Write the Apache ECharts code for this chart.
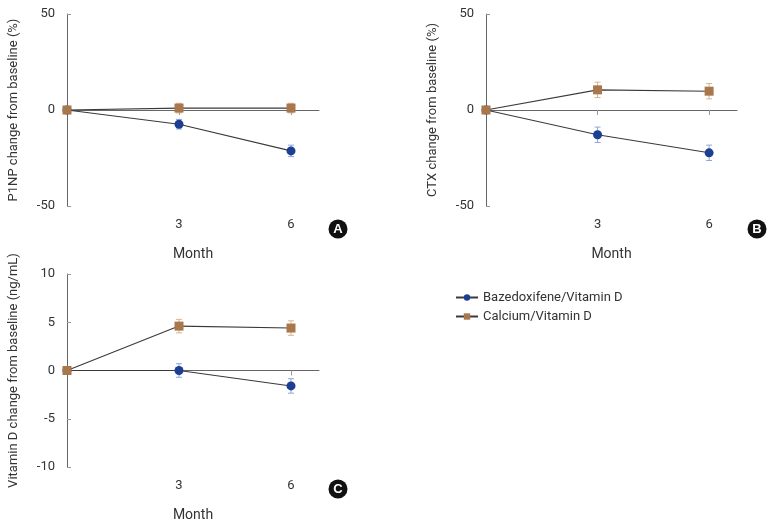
<!DOCTYPE html>
<html><head><meta charset="utf-8">
<script src="https://cdn.jsdelivr.net/npm/echarts@6/dist/echarts.min.js"></script>
<style>html,body{margin:0;padding:0;background:#fff}#c{width:774px;height:526px}</style>
</head><body><div id="c"></div>
<script>
var months = [0, 3, 6];
var seriesNames = ['Bazedoxifene/Vitamin D', 'Calcium/Vitamin D'];
// Panel A: P1NP
var p1npBaz = [0, -7.4, -21.3];
var p1npBazErr = [0, 2.5, 3];
var p1npCal = [0, 1, 1];
var p1npCalErr = [0, 2.5, 2.5];
// Panel B: CTX
var ctxBaz = [0, -12.9, -22.3];
var ctxBazErr = [0, 4, 4];
var ctxCal = [0, 10.5, 9.8];
var ctxCalErr = [0, 4, 4];
// Panel C: Vitamin D
var vitBaz = [0, 0, -1.6];
var vitBazErr = [0, 0.7, 0.75];
var vitCal = [0, 4.6, 4.4];
var vitCalErr = [0, 0.7, 0.75];

var yNames = ['P1NP change from baseline (%)', 'CTX change from baseline (%)', 'Vitamin D change from baseline (ng/mL)'];
var yRanges = [[-50, 50, 50], [-50, 50, 50], [-10, 10, 5]];
var panelLetters = ['A', 'B', 'C'];

var FONT = '"Roboto", "Liberation Sans", sans-serif';
var BLUE = '#1c3f94', BROWN = '#a8774b', BLUE_L = '#8ea6d8', BROWN_L = '#d6b592';

var grids = [
  {left: 67, top: 14, width: 252, height: 192},
  {left: 486, top: 14, width: 251, height: 192},
  {left: 67, top: 274, width: 252, height: 193}
];

var xAxes = [], yAxes = [], series = [];
var panels = [
  [p1npBaz, p1npBazErr, p1npCal, p1npCalErr],
  [ctxBaz, ctxBazErr, ctxCal, ctxCalErr],
  [vitBaz, vitBazErr, vitCal, vitCalErr]
];

function errSeries(i, vals, errs, color) {
  return {
    type: 'custom', xAxisIndex: i, yAxisIndex: i, silent: true, z: 1,
    data: months.map(function (m, k) { return [m, vals[k] - errs[k], vals[k] + errs[k]]; }),
    renderItem: function (params, api) {
      var lo = api.coord([api.value(0), api.value(1)]);
      var hi = api.coord([api.value(0), api.value(2)]);
      var w = 3;
      var st = {stroke: color, lineWidth: 1};
      return {type: 'group', children: [
        {type: 'line', shape: {x1: lo[0], y1: lo[1], x2: hi[0], y2: hi[1]}, style: st},
        {type: 'line', shape: {x1: lo[0] - w, y1: lo[1], x2: lo[0] + w, y2: lo[1]}, style: st},
        {type: 'line', shape: {x1: hi[0] - w, y1: hi[1], x2: hi[0] + w, y2: hi[1]}, style: st}
      ]};
    }
  };
}

panels.forEach(function (p, i) {
  xAxes.push({
    gridIndex: i, type: 'value', min: 0, max: 6.75, interval: 3,
    name: 'Month', nameLocation: 'middle', nameGap: 41,
    nameTextStyle: {fontFamily: FONT, fontSize: 14, color: '#333'},
    axisLine: {lineStyle: {color: '#666', width: 1}},
    axisTick: {show: true, length: 5, customValues: [3, 6], lineStyle: {color: '#999'}},
    axisLabel: {customValues: [3, 6], margin: 12, fontFamily: FONT, fontSize: 13, color: '#333'},
    splitLine: {show: false}
  });
  yAxes.push({
    gridIndex: i, type: 'value', min: yRanges[i][0], max: yRanges[i][1], interval: yRanges[i][2],
    name: yNames[i], nameLocation: 'middle', nameGap: 47,
    nameTextStyle: {fontFamily: FONT, fontSize: 13, color: '#333'},
    axisLine: {show: true, lineStyle: {color: '#666', width: 1}},
    axisTick: {show: true, inside: true, length: 4, lineStyle: {color: '#999'}},
    axisLabel: {margin: 12, fontFamily: FONT, fontSize: 13, color: '#333'},
    splitLine: {show: false}
  });
  series.push(errSeries(i, p[0], p[1], BLUE_L));
  series.push(errSeries(i, p[2], p[3], BROWN_L));
  series.push({
    name: seriesNames[0], type: 'line', xAxisIndex: i, yAxisIndex: i, z: 3,
    data: months.map(function (m, k) { return [m, p[0][k]]; }),
    symbol: 'circle', symbolSize: 9,
    itemStyle: {color: BLUE}, lineStyle: {color: '#3a3a3a', width: 1.1}
  });
  series.push({
    name: seriesNames[1], type: 'line', xAxisIndex: i, yAxisIndex: i, z: 4,
    data: months.map(function (m, k) { return [m, p[2][k]]; }),
    symbol: 'rect', symbolSize: 9,
    itemStyle: {color: BROWN}, lineStyle: {color: '#3a3a3a', width: 1.1}
  });
});

function badge(letter, cx, cy) {
  return {type: 'group', children: [
    {type: 'circle', shape: {cx: cx, cy: cy, r: 9.5}, style: {fill: '#111'}},
    {type: 'text', x: cx, y: cy + 0.5, style: {text: letter, fill: '#fff', font: 'bold 13px "Liberation Sans", sans-serif', align: 'center', verticalAlign: 'middle'}}
  ]};
}

var chart = echarts.init(document.getElementById('c'), null, {renderer: 'canvas'});
chart.setOption({
  animation: false,
  grid: grids,
  xAxis: xAxes,
  yAxis: yAxes,
  legend: {
    data: seriesNames, orient: 'vertical', left: 450, top: 286, itemGap: 6,
    itemWidth: 22, itemHeight: 8,
    textStyle: {fontFamily: FONT, fontSize: 13, color: '#333'}
  },
  graphic: [badge(panelLetters[0], 338, 229), badge(panelLetters[1], 757, 229), badge(panelLetters[2], 338, 489)],
  series: series
});
</script></body></html>
